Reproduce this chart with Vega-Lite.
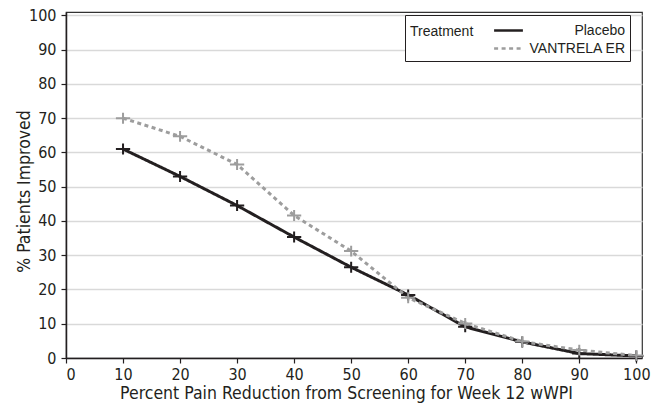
{
  "$schema": "https://vega.github.io/schema/vega-lite/v6.json",
  "width": 576,
  "height": 346,
  "autosize": "none",
  "padding": {"left": 66, "top": 12, "right": 9, "bottom": 46},
  "background": "white",
  "config": {
    "view": {"stroke": "#333333", "strokeWidth": 1.2},
    "font": "DejaVu Sans Condensed, Liberation Sans, sans-serif"
  },
  "data": {
    "values": [
      {"x": 10, "y": 61.0, "Treatment": "Placebo"},
      {"x": 20, "y": 53.0, "Treatment": "Placebo"},
      {"x": 30, "y": 44.5, "Treatment": "Placebo"},
      {"x": 40, "y": 35.3, "Treatment": "Placebo"},
      {"x": 50, "y": 26.5, "Treatment": "Placebo"},
      {"x": 60, "y": 18.4, "Treatment": "Placebo"},
      {"x": 70, "y": 9.1, "Treatment": "Placebo"},
      {"x": 80, "y": 4.7, "Treatment": "Placebo"},
      {"x": 90, "y": 1.3, "Treatment": "Placebo"},
      {"x": 100, "y": 0.6, "Treatment": "Placebo"},
      {"x": 10, "y": 70.0, "Treatment": "VANTRELA ER"},
      {"x": 20, "y": 64.7, "Treatment": "VANTRELA ER"},
      {"x": 30, "y": 56.5, "Treatment": "VANTRELA ER"},
      {"x": 40, "y": 41.6, "Treatment": "VANTRELA ER"},
      {"x": 50, "y": 31.2, "Treatment": "VANTRELA ER"},
      {"x": 60, "y": 17.6, "Treatment": "VANTRELA ER"},
      {"x": 70, "y": 10.1, "Treatment": "VANTRELA ER"},
      {"x": 80, "y": 4.8, "Treatment": "VANTRELA ER"},
      {"x": 90, "y": 2.3, "Treatment": "VANTRELA ER"},
      {"x": 100, "y": 0.7, "Treatment": "VANTRELA ER"}
    ]
  },
  "encoding": {
    "x": {
      "field": "x", "type": "quantitative",
      "scale": {"domain": [0, 101], "nice": false, "zero": true},
      "axis": {
        "title": "Percent Pain Reduction from Screening for Week 12 wWPI",
        "values": [0, 10, 20, 30, 40, 50, 60, 70, 80, 90, 100],
        "grid": false,
        "domainColor": "#231f20", "domainWidth": 1.5,
        "tickColor": "#231f20", "tickSize": 5, "tickWidth": 1.2,
        "labelFont": "DejaVu Sans Condensed, Liberation Sans, sans-serif", "labelFontSize": 16, "labelColor": "#231f20",
        "labelPadding": 3,
        "titleFont": "DejaVu Sans Condensed, Liberation Sans, sans-serif", "titleFontSize": 17.5, "titleFontWeight": "normal", "titleColor": "#231f20",
        "titleX": 280, "titleY": 40, "titleBaseline": "alphabetic", "titleAnchor": "middle", "titleAlign": "center"
      }
    },
    "y": {
      "field": "y", "type": "quantitative",
      "scale": {"domain": [0, 101], "nice": false, "zero": true},
      "axis": {
        "title": "% Patients Improved",
        "values": [0, 10, 20, 30, 40, 50, 60, 70, 80, 90, 100],
        "grid": true, "gridColor": "#d9d9d9", "gridWidth": 1.5,
        "domainColor": "#231f20", "domainWidth": 1.5,
        "tickColor": "#231f20", "tickSize": 5, "tickWidth": 1.2,
        "labelFont": "DejaVu Sans Condensed, Liberation Sans, sans-serif", "labelFontSize": 16, "labelColor": "#231f20",
        "labelPadding": 5,
        "titleFont": "DejaVu Sans Condensed, Liberation Sans, sans-serif", "titleFontSize": 17.5, "titleFontWeight": "normal", "titleColor": "#231f20",
        "titleAngle": -90, "titleX": -37, "titleY": 179, "titleBaseline": "alphabetic", "titleAlign": "center"
      }
    }
  },
  "layer": [
    {
      "mark": {"type": "line", "strokeWidth": 3, "strokeCap": "butt"},
      "encoding": {
        "color": {
          "field": "Treatment", "type": "nominal",
          "scale": {"domain": ["Placebo", "VANTRELA ER"], "range": ["#231f20", "#9d9d9d"]},
          "legend": {
            "orient": "none", "legendX": 339, "legendY": 3,
            "title": "Treatment", "titleOrient": "left", "titleAnchor": "start",
            "titleBaseline": "line-top", "titleLineHeight": 24,
            "titleFont": "Liberation Sans", "titleFontSize": 14, "titleFontWeight": "normal", "titleColor": "#231f20",
            "titlePadding": 24,
            "labelFont": "Liberation Sans", "labelFontSize": 14, "labelColor": "#231f20",
            "labelAlign": "right", "labelOffset": 106,
            "symbolType": "M-1.6,0H1.6", "symbolSize": 324, "symbolStrokeWidth": 2.5,
            "rowPadding": 0,
            "padding": 5, "strokeColor": "#231f20", "fillColor": "white"
          }
        },
        "strokeDash": {
          "field": "Treatment", "type": "nominal",
          "scale": {"domain": ["Placebo", "VANTRELA ER"], "range": [[1, 0], [4, 3.5]]},
          "legend": {
            "orient": "none", "legendX": 339, "legendY": 3,
            "title": "Treatment", "titleOrient": "left", "titleAnchor": "start",
            "titleBaseline": "line-top", "titleLineHeight": 24,
            "titleFont": "Liberation Sans", "titleFontSize": 14, "titleFontWeight": "normal", "titleColor": "#231f20",
            "titlePadding": 24,
            "labelFont": "Liberation Sans", "labelFontSize": 14, "labelColor": "#231f20",
            "labelAlign": "right", "labelOffset": 106,
            "symbolType": "M-1.6,0H1.6", "symbolSize": 324, "symbolStrokeWidth": 2.5,
            "rowPadding": 0,
            "padding": 5, "strokeColor": "#231f20", "fillColor": "white"
          }
        }
      }
    },
    {
      "mark": {"type": "point", "shape": "M-1.3,0H1.3M0,-1V1", "filled": false, "size": 120, "strokeWidth": 2, "opacity": 1},
      "encoding": {
        "color": {
          "condition": {"test": "datum.Treatment === 'Placebo'", "value": "#231f20"},
          "value": "#9d9d9d"
        }
      }
    }
  ]
}
